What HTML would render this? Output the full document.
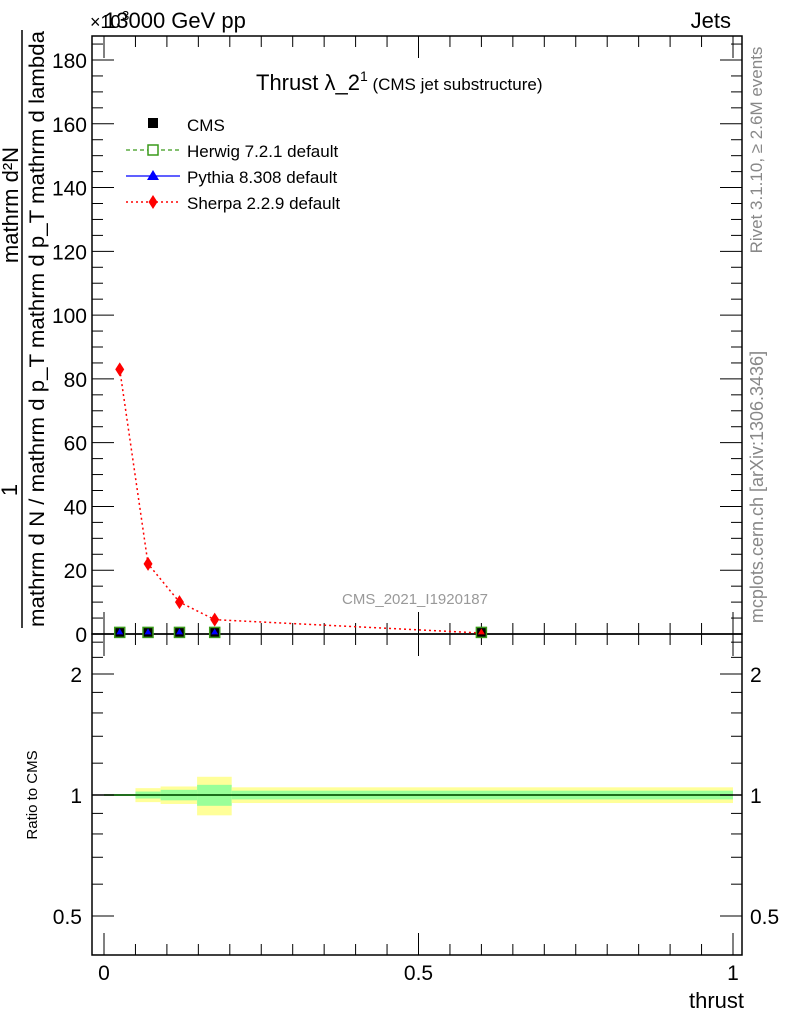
<!DOCTYPE html>
<html><head><meta charset="utf-8"><style>
body{margin:0;background:#fff}
svg{font-family:"Liberation Sans",sans-serif}
</style></head><body>
<svg width="786" height="1024" viewBox="0 0 786 1024">
<g id="root"></g>
</svg>
<script>
const binEdges=[0,0.05,0.09,0.148,0.203,1];
const binCenters=[0.025,0.07,0.12,0.176,0.6];
const cmsValues=[0.5,0.5,0.5,0.5,0.5];
const sherpaValues=[83,22,10,4.5,0.3];
const greenBand=[0.005,0.02,0.03,0.06,0.025];
const yellowBand=[0.005,0.04,0.05,0.11,0.045];
const yTicks=[0,20,40,60,80,100,120,140,160,180];
const rTicks=[0.5,1,2];
const xTicks=[0,0.5,1];

const NS="http://www.w3.org/2000/svg";
const root=document.getElementById('root');
function el(tag,attrs,parent,name,inter){const e=document.createElementNS(NS,tag);for(const k in attrs)e.setAttribute(k,attrs[k]);


(parent||root).appendChild(e);return e;}
function txt(s,attrs,name){const t=el('text',attrs,root,name);t.textContent=s;return t;}

const L=92,R=742,T=36,MB=634,RB=955;
const X=v=>104+v*629;
const Y=v=>634-v*(574/180);
const RY=v=>795-Math.log2(v)*121;

binEdges.slice(0,-1).forEach((e,i)=>{
 const x1=X(e),x2=X(binEdges[i+1]);
 el('rect',{x:x1,y:RY(1+yellowBand[i]),width:x2-x1,height:RY(1-yellowBand[i])-RY(1+yellowBand[i]),fill:'#ffff99'},root,'ratio-yellow-band');
 el('rect',{x:x1,y:RY(1+greenBand[i]),width:x2-x1,height:RY(1-greenBand[i])-RY(1+greenBand[i]),fill:'#99ff99'},root,'ratio-green-band');
});
el('line',{x1:L,x2:R,y1:RY(1),y2:RY(1),stroke:'#000','stroke-width':1.5},root,'ratio-unity-line');
el('line',{x1:X(0),x2:X(1),y1:RY(1),y2:RY(1),stroke:'#006400','stroke-width':1.2},root,'herwig-ratio-line');

el('rect',{x:L,y:T,width:R-L,height:MB-T,fill:'none',stroke:'#000','stroke-width':1.5},root,'main-frame');
el('rect',{x:L,y:MB,width:R-L,height:RB-MB,fill:'none',stroke:'#000','stroke-width':1.5},root,'ratio-frame');

for(let v=0;v<=185;v+=5){const big=v%20===0;const y=Y(v);
 el('line',{x1:L,x2:L+(big?22:11),y1:y,y2:y,stroke:'#000'},root,'y-tick');
 el('line',{x1:R,x2:R-(big?22:11),y1:y,y2:y,stroke:'#000'},root,'y-tick-right');}
yTicks.forEach(v=>txt(String(v),{x:L-5,y:Y(v)+8,'font-size':21,'text-anchor':'end'},'y-tick-label'));
[0.4,0.5,0.6,0.7,0.8,0.9,1,1.2,1.4,1.6,1.8,2,2.2,2.4].forEach(v=>{const big=rTicks.includes(v);const y=RY(v);
 el('line',{x1:L,x2:L+(big?22:11),y1:y,y2:y,stroke:'#000'},root,'ratio-tick');
 el('line',{x1:R,x2:R-(big?22:11),y1:y,y2:y,stroke:'#000'},root,'ratio-tick-right');});
rTicks.forEach(v=>{txt(String(v),{x:L-10,y:RY(v)+8,'font-size':21,'text-anchor':'end'},'ratio-tick-label');
 txt(String(v),{x:R+8,y:RY(v)+8,'font-size':21},'ratio-tick-label-right');});
for(let v=0;v<=1.001;v+=0.05){const big=Math.abs(v*2-Math.round(v*2))<1e-6;const x=X(v);
 [[MB,-1],[RB,-1],[T,1],[MB,1]].forEach(([y0,d])=>el('line',{x1:x,x2:x,y1:y0,y2:y0+d*(big?22:11),stroke:'#000'},root,'x-tick'));}
xTicks.forEach(v=>txt(String(v),{x:X(v),y:980,'font-size':21,'text-anchor':'middle'},'x-tick-label'));
txt('thrust',{x:744,y:1008,'font-size':22,'text-anchor':'end'},'x-axis-title');
txt('Ratio to CMS',{x:0,y:0,'font-size':15,'text-anchor':'middle',transform:'translate(37,795) rotate(-90)'},'ratio-y-title');

el('polyline',{points:binCenters.map((c,i)=>X(c)+','+Y(sherpaValues[i])).join(' '),fill:'none',stroke:'#f00','stroke-width':1.5,'stroke-dasharray':'2,3'},root,'sherpa-line');
sherpaValues.forEach((v,i)=>{const x=X(binCenters[i]),y=Y(v);
 if(i<4)el('polygon',{points:`${x},${y-7} ${x+4.5},${y} ${x},${y+7} ${x-4.5},${y}`,fill:'#f00'},root,'sherpa-point');});
cmsValues.forEach((v,i)=>{const x=X(binCenters[i]),y=Y(v);
 el('rect',{x:x-5,y:y-5,width:10,height:10,fill:'#000',stroke:'#3a9a1a','stroke-width':1.5},root,'cms-point');
 el('polygon',{points:`${x},${y-4} ${x+3.5},${y+2} ${x-3.5},${y+2}`,fill:i===4?'#f00':'#00f'},root,'pythia-point');});

txt('13000 GeV pp',{x:104,y:28,'font-size':22},'beam-label');
txt('×10',{x:90,y:28,'font-size':18},'y-multiplier');
txt('3',{x:122,y:20,'font-size':13},'y-multiplier-exp');
txt('Jets',{x:731,y:28,'font-size':22,'text-anchor':'end'},'process-label');
const tt=txt('',{x:256,y:90,'font-size':22},'plot-title');
tt.innerHTML='Thrust λ_2<tspan font-size="14" dy="-9">1</tspan><tspan font-size="17" dy="9"> (CMS jet substructure)</tspan>';
txt('CMS_2021_I1920187',{x:415,y:604,'font-size':15,fill:'#999','text-anchor':'middle'},'analysis-id');
txt('Rivet 3.1.10, ≥ 2.6M events',{x:0,y:0,'font-size':17,fill:'#888','text-anchor':'middle',transform:'translate(762,150) rotate(-90)'},'rivet-label');
txt('mcplots.cern.ch [arXiv:1306.3436]',{x:0,y:0,'font-size':18,fill:'#888','text-anchor':'middle',transform:'translate(763,487) rotate(-90)'},'mcplots-label');

el('rect',{x:148,y:118,width:10,height:10,fill:'#000'},root,'legend-cms-marker');
txt('CMS',{x:187,y:131,'font-size':17},'legend-cms');
el('line',{x1:126,x2:180,y1:150,y2:150,stroke:'#3a9a1a','stroke-dasharray':'4,3','stroke-width':1.2},root,'legend-herwig-line');
el('rect',{x:148,y:145,width:10,height:10,fill:'#fff',stroke:'#3a9a1a','stroke-width':1.5},root,'legend-herwig-marker');
txt('Herwig 7.2.1 default',{x:187,y:157,'font-size':17},'legend-herwig');
el('line',{x1:126,x2:180,y1:176,y2:176,stroke:'#00f','stroke-width':1.2},root,'legend-pythia-line');
el('polygon',{points:'153,170 159,180 147,180',fill:'#00f'},root,'legend-pythia-marker');
txt('Pythia 8.308 default',{x:187,y:183,'font-size':17},'legend-pythia');
el('line',{x1:126,x2:180,y1:202,y2:202,stroke:'#f00','stroke-dasharray':'2,3','stroke-width':1.5},root,'legend-sherpa-line');
el('polygon',{points:'153,195 157.5,202 153,209 148.5,202',fill:'#f00'},root,'legend-sherpa-marker');
txt('Sherpa 2.2.9 default',{x:187,y:209,'font-size':17},'legend-sherpa');

el('line',{x1:22,x2:22,y1:30,y2:628,stroke:'#000','stroke-width':1.5},root,'y-title-fraction-bar');
txt('1',{x:0,y:0,'font-size':22,'text-anchor':'middle',transform:'translate(17,490) rotate(-90)'},'y-title-numerator-1');
txt('mathrm d²N',{x:0,y:0,'font-size':22,'text-anchor':'middle',transform:'translate(18,205) rotate(-90)'},'y-title-d2n');
txt('mathrm d N / mathrm d p_T mathrm d p_T mathrm d lambda',{x:0,y:0,'font-size':21,'text-anchor':'middle',textLength:596,lengthAdjust:'spacingAndGlyphs',transform:'translate(44,329) rotate(-90)'},'y-title-denominator');
</script>
</body></html>
